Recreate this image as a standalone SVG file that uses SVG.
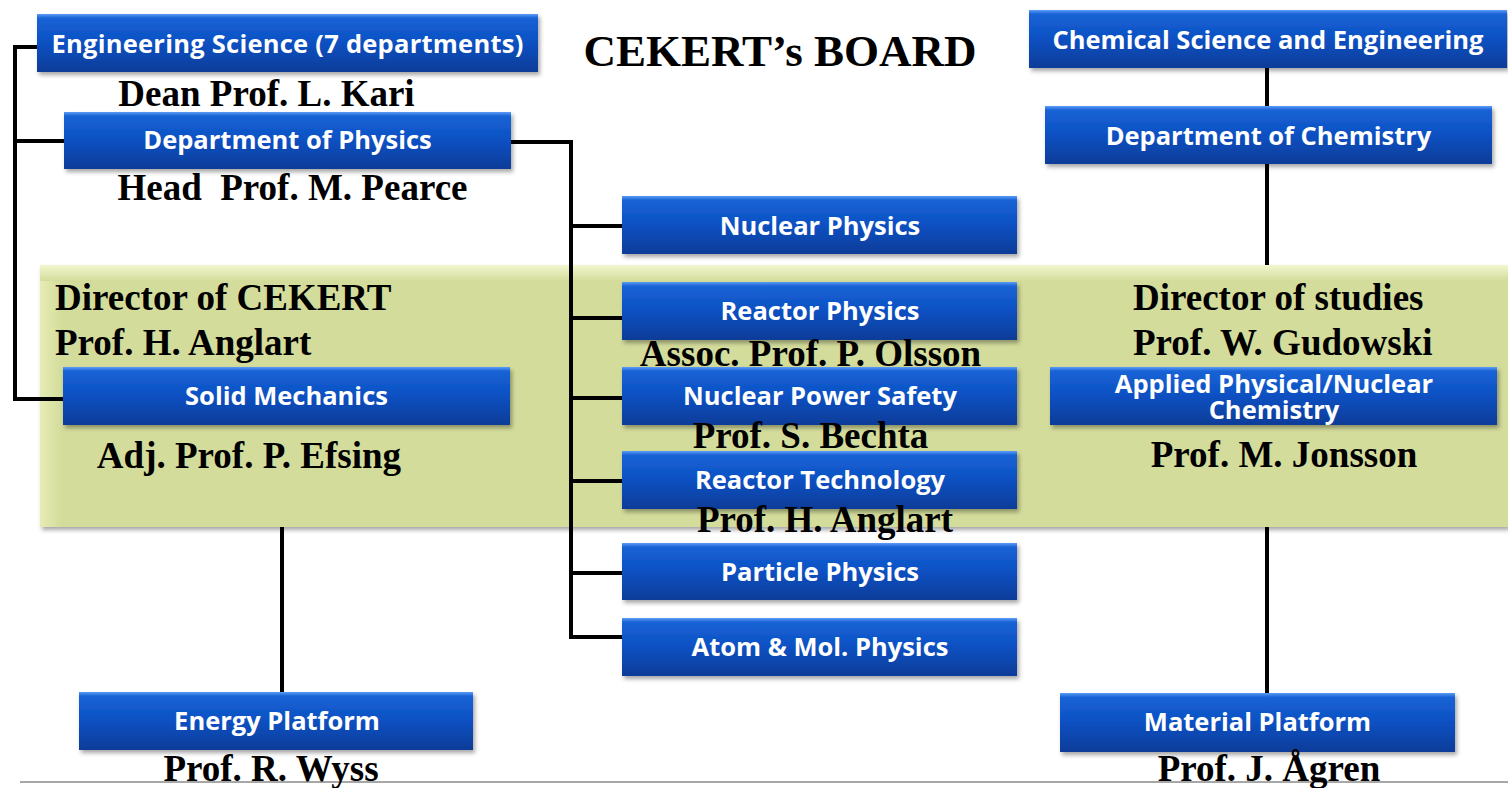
<svg xmlns="http://www.w3.org/2000/svg" width="1508" height="788" viewBox="0 0 1508 788">
<style>
.bx{fill:url(#blue);filter:url(#sh)}
.bt{font-family:"Open Sans","DejaVu Sans",sans-serif;font-weight:bold;font-size:25.5px;fill:#fff;text-anchor:middle}
.st{font-family:"Liberation Serif","Times New Roman",serif;font-weight:bold;font-size:37px;fill:#000}
.c{text-anchor:middle}
.ln{fill:none;stroke:#000;stroke-width:4}
</style>
<defs>
<linearGradient id="blue" x1="0" y1="0" x2="0" y2="1">
<stop offset="0" stop-color="#5a9cf5"/>
<stop offset="0.07" stop-color="#1a63d6"/>
<stop offset="0.5" stop-color="#0a50c2"/>
<stop offset="1" stop-color="#083c98"/>
</linearGradient>
<linearGradient id="bandTop" x1="0" y1="0" x2="0" y2="1">
<stop offset="0" stop-color="#f3f6cf"/>
<stop offset="1" stop-color="#d3dc9b"/>
</linearGradient>
<linearGradient id="bandLeft" x1="0" y1="0" x2="1" y2="0">
<stop offset="0" stop-color="#e6ecb4"/>
<stop offset="1" stop-color="#d3dc9b"/>
</linearGradient>
<filter id="sh" x="-5%" y="-20%" width="110%" height="150%">
<feDropShadow dx="2" dy="3" stdDeviation="2" flood-color="#000" flood-opacity="0.35"/>
</filter>
</defs>
<rect width="1508" height="788" fill="#fff"/>
<g id="band">
<rect x="40" y="265" width="1468" height="262" fill="#d3dc9b" filter="url(#sh)"/>
<rect x="40" y="265" width="1468" height="16" fill="url(#bandTop)"/>
<rect x="40" y="281" width="22" height="246" fill="url(#bandLeft)"/>
</g>
<line x1="20" y1="782" x2="1508" y2="782" stroke="#8a8a8a" stroke-width="1.5"/>
<text id="title" x="780" y="66" class="st c" style="font-size:45px">CEKERT’s BOARD</text>
<g id="connectors">
<path class="ln" d="M37 47 H15 V399 H63 M15 141 H64"/>
<path class="ln" d="M511 142 H571 V637 H622 M571 226 H622 M571 318 H622 M571 398 H622 M571 481 H622 M571 573 H622"/>
<path class="ln" d="M1267 68 V106 M1267 164 V265 M1267 527 V693"/>
<path class="ln" d="M282 527 V692"/>
</g>
<g id="eng-science">
<rect class="bx" x="37" y="14" width="501" height="58"/>
<text class="bt" x="287.5" y="53" style="letter-spacing:0.25px">Engineering Science (7 departments)</text>
<text class="st c" x="266.5" y="106">Dean Prof. L. Kari</text>
</g>
<g id="dept-physics">
<rect class="bx" x="64" y="112" width="447" height="57"/>
<text class="bt" x="287.5" y="149">Department of Physics</text>
<text class="st c" x="292.5" y="200" xml:space="preserve">Head  Prof. M. Pearce</text>
</g>
<g id="chem-science">
<rect class="bx" x="1029" y="10" width="478" height="58"/>
<text class="bt" x="1268" y="49">Chemical Science and Engineering</text>
</g>
<g id="dept-chemistry">
<rect class="bx" x="1045" y="106" width="447" height="58"/>
<text class="bt" x="1268.5" y="145">Department of Chemistry</text>
</g>
<g id="director-cekert">
<text class="st" x="55" y="310">Director of CEKERT</text>
<text class="st" x="55" y="355">Prof. H. Anglart</text>
</g>
<g id="director-studies">
<text class="st" x="1133" y="310">Director of studies</text>
<text class="st" x="1133" y="355">Prof. W. Gudowski</text>
</g>
<g id="nuclear-physics">
<rect class="bx" x="622" y="196" width="395" height="58"/>
<text class="bt" x="820" y="235">Nuclear Physics</text>
</g>
<g id="reactor-physics">
<rect class="bx" x="622" y="282" width="395" height="58"/>
<text class="bt" x="820" y="320">Reactor Physics</text>
</g>
<g id="nuclear-power-safety">
<rect class="bx" x="622" y="367" width="395" height="58"/>
<text class="bt" x="820" y="405">Nuclear Power Safety</text>
</g>
<g id="reactor-technology">
<rect class="bx" x="622" y="451" width="395" height="58"/>
<text class="bt" x="820" y="489">Reactor Technology</text>
</g>
<text class="st c" x="810.5" y="366">Assoc. Prof. P. Olsson</text>
<text class="st c" x="810.5" y="448">Prof. S. Bechta</text>
<text class="st c" x="825" y="532">Prof. H. Anglart</text>
<g id="particle-physics">
<rect class="bx" x="622" y="543" width="395" height="57"/>
<text class="bt" x="820" y="581">Particle Physics</text>
</g>
<g id="atom-mol-physics">
<rect class="bx" x="622" y="618" width="395" height="58"/>
<text class="bt" x="820" y="656">Atom &amp; Mol. Physics</text>
</g>
<g id="solid-mechanics">
<rect class="bx" x="63" y="367" width="447" height="58"/>
<text class="bt" x="286.5" y="405">Solid Mechanics</text>
<text class="st c" x="249" y="468">Adj. Prof. P. Efsing</text>
</g>
<g id="applied-chemistry">
<rect class="bx" x="1050" y="367" width="447" height="58"/>
<text class="bt"><tspan x="1274" y="393">Applied Physical/Nuclear</tspan><tspan x="1274" y="419">Chemistry</tspan></text>
<text class="st c" x="1284" y="467">Prof. M. Jonsson</text>
</g>
<g id="energy-platform">
<rect class="bx" x="79" y="692" width="394" height="58"/>
<text class="bt" x="277" y="730">Energy Platform</text>
<text class="st c" x="271" y="781">Prof. R. Wyss</text>
</g>
<g id="material-platform">
<rect class="bx" x="1060" y="693" width="395" height="59"/>
<text class="bt" x="1257.5" y="731">Material Platform</text>
<text class="st c" x="1269" y="781">Prof. J. Ågren</text>
</g>
</svg>
